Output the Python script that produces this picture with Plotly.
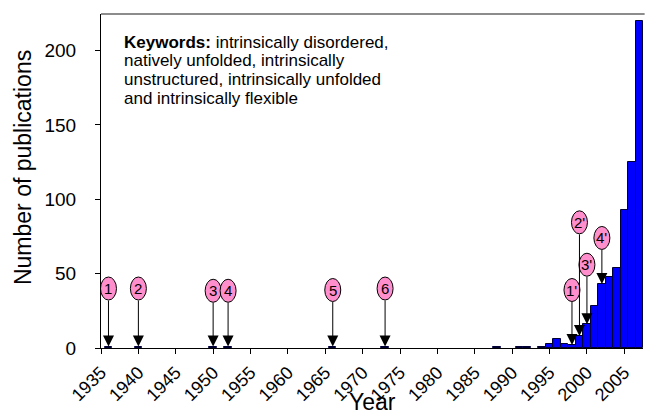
import plotly.graph_objects as go

# ---- data ----
years = [1936, 1940, 1950, 1952, 1966, 1973, 1988, 1991, 1992, 1994, 1995, 1996,
         1997, 1998, 1999, 2000, 2001, 2002, 2003, 2004, 2005, 2006, 2007]
counts = [1, 1, 1, 1, 1, 1, 1, 1, 1, 1, 3, 6,
          3, 2, 8, 16, 28, 43, 48, 54, 93, 125, 220]

marker_labels = ["1", "2", "3", "4", "5", "6", "1'", "2'", "3'", "4'"]
marker_years = [1936, 1940, 1950, 1952, 1966, 1973, 1998, 1999, 2000, 2002]
marker_label_y = [40, 40, 38.5, 38.5, 39, 40, 39, 84.5, 56, 74]
marker_tip_y = [1, 1, 1, 1, 1, 1, 2, 8, 16, 43]

x_ticks = list(range(1935, 2006, 5))
y_ticks = [0, 50, 100, 150, 200]

keyword_lines = [
    "<b>Keywords:</b> intrinsically disordered,",
    "natively unfolded, intrinsically",
    "unstructured, intrinsically unfolded",
    "and intrinsically flexible",
]

FONT = "Arial, Liberation Sans, sans-serif"

fig = go.Figure()
fig.add_trace(go.Bar(
    x=years, y=counts, width=1,
    marker=dict(color="#0000FF", line=dict(color="#000033", width=1)),
    showlegend=False, hoverinfo="x+y",
))

shapes = []
annotations = []
for lab, xv, ly, ty in zip(marker_labels, marker_years, marker_label_y, marker_tip_y):
    shapes.append(dict(
        type="circle", layer="above", xref="x", yref="y",
        xsizemode="pixel", ysizemode="pixel", xanchor=xv, yanchor=ly,
        x0=-8, x1=8, y0=-11.5, y1=11.5,
        fillcolor="#FF8FCC", line=dict(color="#000000", width=1),
    ))
    annotations.append(dict(
        x=xv, y=ty, ax=xv, ay=ly, xref="x", yref="y", axref="x", ayref="y",
        text=lab, showarrow=True, arrowhead=2, arrowsize=2.2, arrowwidth=1,
        arrowcolor="#000000", standoff=0, borderpad=3,
        font=dict(family=FONT, size=15, color="#000000"),
    ))

# top frame line
shapes.append(dict(type="line", xref="paper", yref="paper", x0=0, x1=1.003, y0=1, y1=1,
                   line=dict(color="#8C8C8C", width=2), layer="above"))

# keyword block, one annotation per line (paper coords of the plot area)
for i, line in enumerate(keyword_lines):
    annotations.append(dict(
        x=0.039, y=0.916 - i * 0.0565, xref="paper", yref="paper",
        xanchor="left", yanchor="middle",
        text=line, showarrow=False, align="left",
        font=dict(family=FONT, size=17, color="#000000"),
    ))

annotations.append(dict(
    x=-0.145, y=0.54, xref="paper", yref="paper", xanchor="center", yanchor="middle",
    text="Number of publications", textangle=-90, showarrow=False,
    font=dict(family=FONT, size=23, color="#000000"),
))
annotations.append(dict(
    x=0.5, y=-0.2066, xref="paper", yref="paper", xanchor="center", yanchor="bottom",
    text="Year", showarrow=False,
    font=dict(family=FONT, size=23, color="#000000"),
))

fig.update_layout(
    width=645, height=417,
    margin=dict(l=101, r=2, t=14, b=69),
    paper_bgcolor="white", plot_bgcolor="white",
    bargap=0,
    shapes=shapes, annotations=annotations,
    font=dict(family=FONT, color="#000000"),
    xaxis=dict(
        range=[1935, 2007.5], tickmode="array", tickvals=x_ticks,
        ticktext=[str(t) for t in x_ticks], tickangle=-45,
        ticks="outside", ticklen=5, tickcolor="#000000",
        showline=True, linecolor="#000000", linewidth=1,
        showgrid=False, zeroline=False, ticklabelstandoff=1,
        tickfont=dict(family=FONT, size=18, color="#000000"),
    ),
    yaxis=dict(
        range=[0, 224.6], tickmode="array", tickvals=y_ticks,
        ticks="outside", ticklen=5, tickcolor="#000000",
        showline=True, linecolor="#000000", linewidth=1,
        showgrid=False, zeroline=False, ticklabelstandoff=15,
        tickfont=dict(family=FONT, size=19, color="#000000"),
    ),
)

fig.write_html("out.html", config={"displayModeBar": False},
               post_script="document.body.style.margin='0';document.body.style.overflow='hidden';")
